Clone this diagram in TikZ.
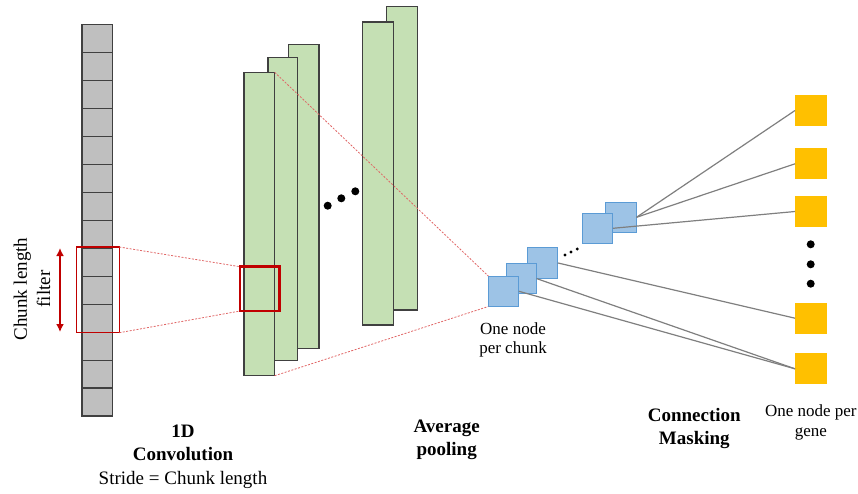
\documentclass[tikz,border=0pt]{standalone}
\usepackage{fontspec}
\setmainfont{Liberation Serif}
\usetikzlibrary{arrows.meta}
\definecolor{greenfill}{HTML}{C5E0B4}
\definecolor{barline}{HTML}{404040}
\definecolor{grayfill}{HTML}{BFBFBF}
\definecolor{bluefill}{HTML}{9DC3E6}
\definecolor{blueline}{HTML}{5B9BD5}
\definecolor{goldfill}{HTML}{FFC000}
\definecolor{darkred}{HTML}{C00000}
\definecolor{dotred}{HTML}{E06666}
\definecolor{linkgray}{HTML}{7F7F7F}
\tikzset{
  cellbox/.style={draw=barline, fill=grayfill, line width=1.2pt, inner sep=0, outer sep=0,
    minimum width=30.5pt, minimum height=27.95pt, anchor=north west},
  greenbar/.style={draw=barline, fill=greenfill, line width=1.1pt, inner sep=0, outer sep=0, anchor=north west},
  bluebox/.style={draw=blueline, fill=bluefill, line width=0.8pt, inner sep=0, outer sep=0,
    minimum width=30.5pt, minimum height=30.5pt, anchor=north west},
  genebox/.style={fill=goldfill, inner sep=0, outer sep=0, minimum width=31.5pt, minimum height=31pt, anchor=north west},
  redframe/.style={draw=darkred, inner sep=0, outer sep=0, anchor=north west},
  dotlink/.style={draw=dotred, line width=0.8pt, dash pattern=on 2pt off 1.5pt},
  graylink/.style={draw=linkgray, line width=1.2pt},
  bigdot/.style={circle, fill=black, inner sep=0, minimum size=8pt},
  smalldot/.style={circle, fill=black, inner sep=0, minimum size=3.2pt},
  boldlabel/.style={font=\fontsize{19}{23.5}\selectfont\bfseries, align=center, inner sep=0},
  plainlabel/.style={font=\fontsize{19}{23.5}\selectfont, align=center, inner sep=0},
  smalllabel/.style={font=\fontsize{17}{19.5}\selectfont, align=center, inner sep=0},
}
\begin{document}
\begin{tikzpicture}[x=1pt, y=-1pt]
\useasboundingbox (0,0) rectangle (858,493);

% input sequence column
\foreach \i in {1,...,14} {
  \node[cellbox] (c\i) at (82, {24.7+(\i-1)*27.95}) {};
}

% filter box on input
\node[redframe, line width=1.5pt, minimum width=42.6pt, minimum height=85.7pt] (rf1) at (76.7,247) {};

% arrow and label
\coordinate (atop) at (60,248);
\coordinate (abot) at (60,332);
\draw[darkred, line width=2.6pt, {Latex[length=8pt,width=8pt]}-{Latex[length=8pt,width=8pt]}] (atop) -- (abot);
\node[plainlabel, rotate=90] (filterlabel) at (32,289) {Chunk length\\filter};

% feature maps
\node[greenbar, minimum width=30.3pt, minimum height=303.6pt] (g3) at (288.7,44.7) {};
\node[greenbar, minimum width=29.7pt, minimum height=303pt] (g2) at (268,57.7) {};
\node[greenbar, minimum width=30.7pt, minimum height=303.4pt] (g1) at (244,72.3) {};
\node[greenbar, minimum width=30.6pt, minimum height=303.3pt] (g5) at (386.7,6.7) {};
\node[greenbar, minimum width=31pt, minimum height=303pt] (g4) at (362.3,22) {};

\node[bigdot] (gd1) at (327.7,205.7) {};
\node[bigdot] (gd2) at (341.3,198.3) {};
\node[bigdot] (gd3) at (355.3,191.3) {};

% filter box on feature map
\node[redframe, line width=2.6pt, minimum width=39.3pt, minimum height=44.3pt] (rf2) at (240,266.7) {};

% pooled nodes
\node[bluebox] (b3) at (527.3,247.7) {};
\node[bluebox] (b2) at (506,263.3) {};
\node[bluebox] (b1) at (488.3,276) {};
\node[bluebox, minimum width=31.5pt, minimum height=30pt] (bt2) at (605,202.3) {};
\node[bluebox, minimum width=30.5pt, minimum height=30pt] (bt1) at (582.3,213.3) {};

\node[smalldot] (bd1) at (565,255) {};
\node[smalldot] (bd2) at (571,252) {};
\node[smalldot] (bd3) at (577.3,249) {};

% dotted projection lines
\draw[dotlink] (rf1.north east) -- (rf2.north west);
\draw[dotlink] (rf1.south east) -- (rf2.south west);
\draw[dotlink] (g1.north east) -- (b1.north west);
\draw[dotlink] (g1.south east) -- (b1.south west);

% gene nodes
\node[genebox] (y1) at (795,95) {};
\node[genebox] (y2) at (795,148.3) {};
\node[genebox] (y3) at (795,196) {};
\node[genebox] (y4) at (795,302.7) {};
\node[genebox] (y5) at (795,353.3) {};

\node[bigdot] (yd1) at (810.7,244.3) {};
\node[bigdot] (yd2) at (810.7,264.3) {};
\node[bigdot] (yd3) at (810.7,283.7) {};

% masked connections
\draw[graylink] (bt2.east) -- (y1.west);
\draw[graylink] (bt2.east) -- (y2.west);
\draw[graylink] (bt1.east) -- (y3.west);
\draw[graylink] (b3.east) -- (y4.west);
\draw[graylink] (b2.east) -- (y5.west);
\draw[graylink] (b1.east) -- (y5.west);

% labels
\node[plainlabel] (convlabel) at (183,456.5) {\textbf{1D}\\\textbf{Convolution}\\Stride = Chunk length};
\node[boldlabel] (poollabel) at (446.7,440) {Average\\pooling};
\node[smalllabel] (chunklabel) at (513,340) {One node\\per chunk};
\node[boldlabel] (masklabel) at (694.3,428.3) {Connection\\Masking};
\node[smalllabel] (genelabel) at (810.8,422.5) {One node per\\gene};
\end{tikzpicture}
\end{document}
